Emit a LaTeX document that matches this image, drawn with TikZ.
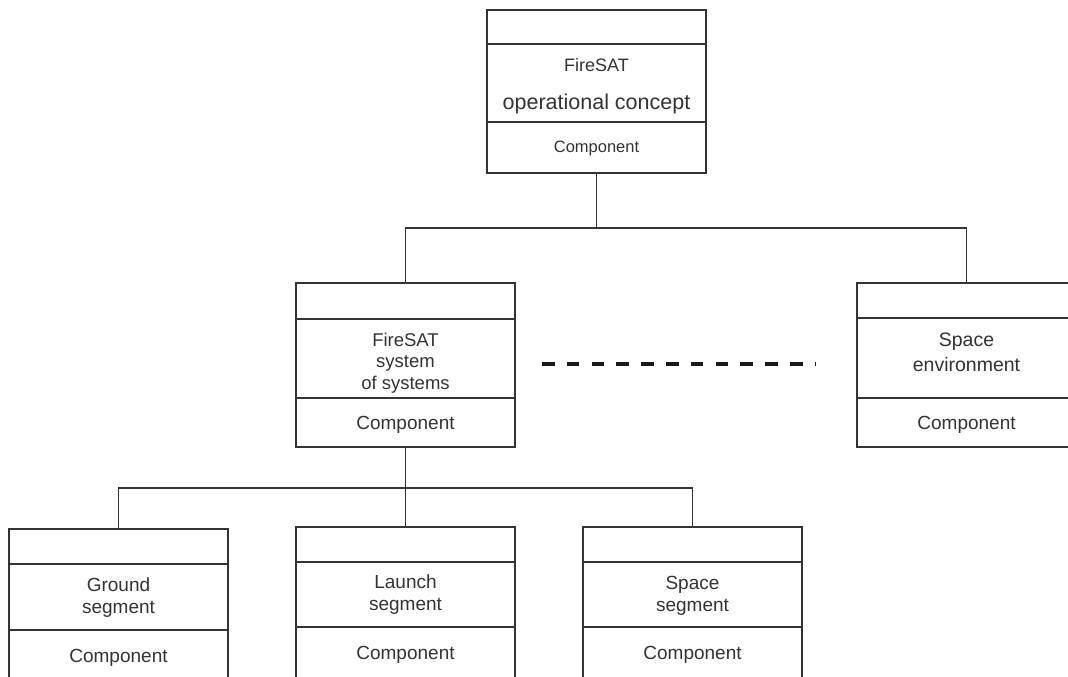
\documentclass[tikz,border=0pt]{standalone}
\usepackage{fontspec}
\setmainfont{Liberation Sans}
\definecolor{txt}{HTML}{333333}
\definecolor{ln}{HTML}{333333}
\begin{document}
\begin{tikzpicture}[x=1pt,y=-1pt,
  frame/.style={draw=ln, line width=1.4pt, minimum width=219pt, inner sep=0pt, outer sep=0pt, anchor=north},
  sep/.style={draw=ln, line width=1.4pt},
  link/.style={draw=ln, line width=1.4pt},
  lbl/.style={text=txt, inner sep=0pt, anchor=base, font=\fontsize{19}{22}\selectfont},
  ]
\useasboundingbox (0,0) rectangle (1068,677);
\clip (0,0) rectangle (1068,677);
\fill[white] (0,0) rectangle (1068,677);

% top box
\node[frame, minimum height=163pt] (top) at (596.5,10) {};
\draw[sep] (487,44) -- (706,44);
\draw[sep] (487,122) -- (706,122);
\node[lbl, font=\fontsize{18}{21}\selectfont] (t1) at (596.5,71) {FireSAT};
\node[lbl, font=\fontsize{21.5}{26}\selectfont] (t2) at (596.5,110) {operational concept};
\node[lbl, font=\fontsize{16.5}{19}\selectfont] (t3) at (596.5,152) {Component};

% middle left box
\node[frame, minimum height=164pt] (mid) at (405.5,283) {};
\draw[sep] (296,319) -- (515,319);
\draw[sep] (296,398) -- (515,398);
\node[lbl, font=\fontsize{18.5}{22}\selectfont] (m1) at (405.5,346) {FireSAT};
\node[lbl, font=\fontsize{18.5}{22}\selectfont] (m2) at (405.5,367.5) {system};
\node[lbl, font=\fontsize{18.5}{22}\selectfont] (m3) at (405.5,389) {of systems};
\node[lbl] (m4) at (405.5,429) {Component};

% middle right box
\node[frame, minimum height=164pt] (env) at (966.5,283) {};
\draw[sep] (857,318) -- (1076,318);
\draw[sep] (857,398) -- (1076,398);
\node[lbl, font=\fontsize{19.5}{24}\selectfont] (e1) at (966.5,346) {Space};
\node[lbl, font=\fontsize{19.5}{24}\selectfont] (e2) at (966.5,371) {environment};
\node[lbl] (e3) at (966.5,429) {Component};

% bottom boxes
\node[frame, minimum height=170pt] (gnd) at (118.5,529) {};
\draw[sep] (9,564) -- (228,564);
\draw[sep] (9,630) -- (228,630);
\node[lbl] (g1) at (118.5,591) {Ground};
\node[lbl] (g2) at (118.5,613) {segment};
\node[lbl] (g3) at (118.5,662) {Component};

\node[frame, minimum height=170pt] (lch) at (405.5,527) {};
\draw[sep] (296,562) -- (515,562);
\draw[sep] (296,627) -- (515,627);
\node[lbl] (l1) at (405.5,588.5) {Launch};
\node[lbl] (l2) at (405.5,610.5) {segment};
\node[lbl] (l3) at (405.5,659.5) {Component};

\node[frame, minimum height=170pt] (spc) at (692.5,527) {};
\draw[sep] (583,562) -- (802,562);
\draw[sep] (583,627) -- (802,627);
\node[lbl] (s1) at (692.5,589) {Space};
\node[lbl] (s2) at (692.5,611) {segment};
\node[lbl] (s3) at (692.5,659.5) {Component};

% connectors
\coordinate (j1) at (596.5,228);
\coordinate (j2) at (405.5,488);
\draw[link] (top.south) -- (j1);
\draw[link] (mid.north) |- (j1) -| (env.north);
\draw[link] (mid.south) -- (j2);
\draw[link] (gnd.north) |- (j2) -| (spc.north);
\draw[link] (j2) -- (lch.north);

% dashed line
\coordinate (d1) at (542,364);
\coordinate (d2) at (816,364);
\draw[line width=4pt, black!90, dash pattern=on 12.5pt off 12.3pt] (d1) -- (d2);
\end{tikzpicture}
\end{document}
